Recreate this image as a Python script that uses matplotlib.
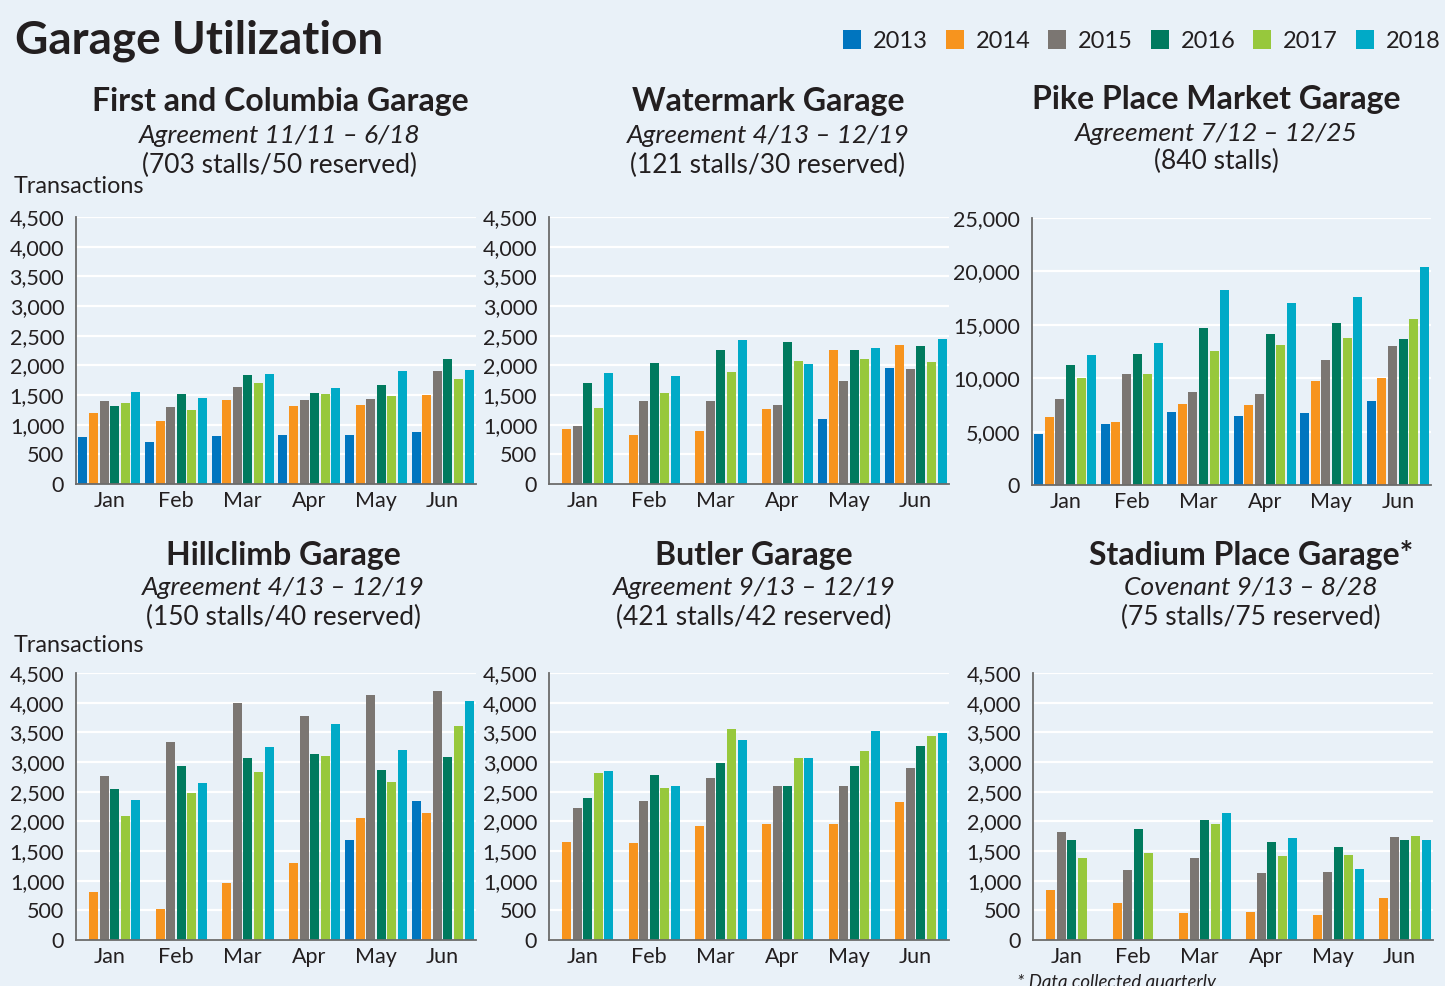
import matplotlib
matplotlib.use("Agg")
import matplotlib.pyplot as plt
from matplotlib.patches import Patch
from matplotlib.ticker import FuncFormatter
import numpy as np

W, H = 1445, 986
plt.rcParams.update({'font.family': 'Lato', 'text.color': '#231f20',
                     'axes.labelcolor': '#231f20', 'xtick.color': '#231f20',
                     'ytick.color': '#231f20'})

bg = '#e9f1f8'
years = ['2013', '2014', '2015', '2016', '2017', '2018']
colors = ['#0075bf', '#f7941e', '#7b7672', '#007a5e', '#97c83c', '#00aac7']
months = ['Jan', 'Feb', 'Mar', 'Apr', 'May', 'Jun']
nan = np.nan

# transactions per month, one row per year (2013..2018)
first_columbia = [
    [800, 710, 810, 825, 825, 875],
    [1200, 1060, 1415, 1315, 1330, 1500],
    [1400, 1300, 1635, 1415, 1430, 1900],
    [1310, 1515, 1835, 1530, 1665, 2105],
    [1360, 1250, 1700, 1515, 1480, 1770],
    [1550, 1450, 1850, 1615, 1900, 1920],
]
watermark = [
    [nan, nan, nan, nan, 1095, 1955],
    [925, 825, 890, 1265, 2255, 2340],
    [975, 1400, 1400, 1330, 1735, 1935],
    [1700, 2035, 2255, 2390, 2255, 2325],
    [1280, 1530, 1885, 2070, 2105, 2055],
    [1870, 1820, 2425, 2020, 2290, 2440],
]
pike_place = [
    [4800, 5730, 6850, 6480, 6760, 7880],
    [6380, 5920, 7600, 7500, 9750, 10030],
    [8060, 10400, 8720, 8530, 11710, 13010],
    [11240, 12270, 14700, 14130, 15160, 13670],
    [10030, 10400, 12550, 13110, 13760, 15540],
    [12170, 13290, 18240, 17030, 17590, 20390],
]
hillclimb = [
    [nan, nan, nan, nan, 1690, 2350],
    [815, 530, 965, 1290, 2060, 2145],
    [2770, 3345, 4000, 3780, 4135, 4200],
    [2550, 2940, 3075, 3140, 2870, 3090],
    [2095, 2485, 2835, 3105, 2670, 3610],
    [2365, 2650, 3260, 3645, 3210, 4035],
]
butler = [
    [nan, nan, nan, nan, nan, nan],
    [1655, 1640, 1925, 1960, 1960, 2330],
    [2230, 2350, 2735, 2600, 2600, 2905],
    [2400, 2785, 2990, 2600, 2940, 3275],
    [2820, 2565, 3560, 3075, 3190, 3445],
    [2855, 2600, 3375, 3075, 3530, 3495],
]
stadium = [
    [nan, nan, nan, nan, nan, nan],
    [850, 630, 460, 480, 425, 715],
    [1825, 1185, 1390, 1135, 1150, 1740],
    [1690, 1875, 2030, 1655, 1575, 1690],
    [1390, 1470, 1960, 1420, 1440, 1760],
    [nan, nan, 2145, 1725, 1200, 1690],
]

panels = [
    # data, axes box (l, t, r, b) px, ymax, step, title, sub, stalls, baselines, x centre
    (first_columbia, (76, 217, 476, 484), 4500, 500, 'First and Columbia Garage',
     'Agreement 11/11 – 6/18', '(703 stalls/50 reserved)', (110.7, 142.7, 173), 280),
    (watermark, (549, 217, 949, 484), 4500, 500, 'Watermark Garage',
     'Agreement 4/13 – 12/19', '(121 stalls/30 reserved)', (110.7, 142.7, 173), 768),
    (pike_place, (1032, 218, 1431, 485), 25000, 5000, 'Pike Place Market Garage',
     'Agreement 7/12 – 12/25', '(840 stalls)', (109.3, 140.7, 169.3), 1216),
    (hillclimb, (76, 673, 476, 940), 4500, 500, 'Hillclimb Garage',
     'Agreement 4/13 – 12/19', '(150 stalls/40 reserved)', (565, 595, 625), 283),
    (butler, (549, 673, 949, 940), 4500, 500, 'Butler Garage',
     'Agreement 9/13 – 12/19', '(421 stalls/42 reserved)', (565, 595, 625), 754),
    (stadium, (1033, 673, 1433, 940), 4500, 500, 'Stadium Place Garage*',
     'Covenant 9/13 – 8/28', '(75 stalls/75 reserved)', (565, 595, 625), 1251),
]

fig = plt.figure(figsize=(W / 100, H / 100), dpi=100, facecolor=bg)

def fy(y):
    return 1 - y / H

x = np.arange(len(months))
pitch = 0.159
width = 0.135

for data, box, ymax, step, title, sub, stalls, bl, xc in panels:
    l, t, r, b = box
    ax = fig.add_axes([l / W, 1 - b / H, (r - l) / W, (b - t) / H])
    ax.set_facecolor(bg)
    for j in range(len(years)):
        ax.bar(x + (j - 2.5) * pitch, data[j], width=width, color=colors[j], zorder=3)
    ax.set_xlim(-0.5, 5.5)
    ax.set_ylim(0, ymax)
    ax.set_yticks(np.arange(0, ymax + 1, step))
    ax.yaxis.set_major_formatter(FuncFormatter(lambda v, p: f'{int(v):,}'))
    ax.set_xticks(x)
    ax.set_xticklabels(months)
    ax.tick_params(axis='both', length=0, labelsize=15.5)
    ax.tick_params(axis='y', pad=8.5)
    ax.tick_params(axis='x', pad=5)
    ax.grid(axis='y', color='white', linewidth=1.6, zorder=0)
    ax.set_axisbelow(True)
    for s in ['top', 'right']:
        ax.spines[s].set_visible(False)
    for s in ['left', 'bottom']:
        ax.spines[s].set_color('#6b6b6b')
        ax.spines[s].set_linewidth(1.3)
        ax.spines[s].set_zorder(4)

    fig.text(xc / W, fy(bl[0]), title, ha='center', va='baseline',
             fontsize=23, fontweight='bold')
    fig.text(xc / W, fy(bl[1]), sub, ha='center', va='baseline',
             fontsize=19, style='italic')
    fig.text(xc / W, fy(bl[2]), stalls, ha='center', va='baseline', fontsize=19)

fig.text(14 / W, fy(192.7), 'Transactions', ha='left', va='baseline', fontsize=16.8)
fig.text(14 / W, fy(651.7), 'Transactions', ha='left', va='baseline', fontsize=16.8)

fig.text(15 / W, fy(54), 'Garage Utilization', ha='left', va='baseline',
         fontsize=33, fontweight='bold')

handles = [Patch(facecolor=c, edgecolor='none') for c in colors]
fig.legend(handles, years, loc='center left', bbox_to_anchor=(843 / W, fy(41)),
           ncol=6, frameon=False, fontsize=17, handlelength=0.76,
           handleheight=0.85, handletextpad=0.5, columnspacing=0.76,
           borderaxespad=0, borderpad=0)

fig.text(1017 / W, fy(974), '* Data collected quarterly', ha='left', va='top',
         fontsize=13.4, style='italic')

fig.savefig('out.png', dpi=100, facecolor=bg)
